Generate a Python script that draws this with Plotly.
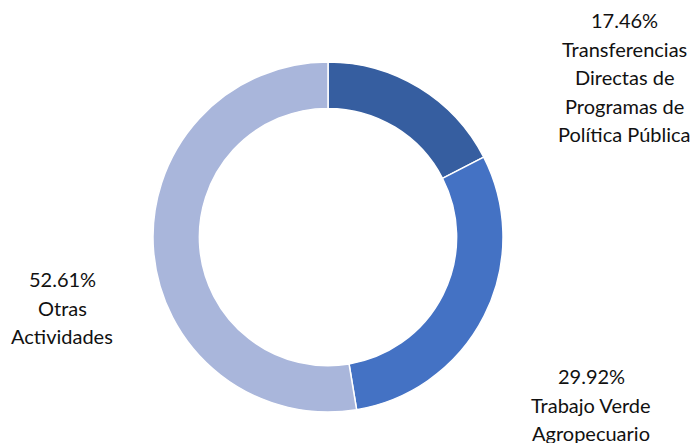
import plotly.graph_objects as go

labels = ["Transferencias Directas de Programas de Política Pública",
          "Trabajo Verde Agropecuario",
          "Otras Actividades"]
values = [17.46, 29.92, 52.61]
label_lines = [["17.46%", "Transferencias", "Directas de", "Programas de", "Política Pública"],
               ["29.92%", "Trabajo Verde", "Agropecuario"],
               ["52.61%", "Otras", "Actividades"]]
colors = ["#365EA0", "#4472C4", "#A9B6DB"]

W, H = 696, 443
fig = go.Figure(go.Pie(
    labels=labels, values=values, sort=False, direction="clockwise", rotation=0,
    hole=0.735, textinfo="none", hoverinfo="label+percent",
    marker=dict(colors=colors, line=dict(color="white", width=1.5)),
    domain=dict(x=[153 / W, 503 / W], y=[(H - 412) / H, (H - 62) / H]),
    showlegend=False,
))

# label anchor positions (pixels: center x, center y of first line), line step
pos = [(624, 20), (591, 376), (62, 279)]
step = 28.5
font = dict(family="Lato, 'Open Sans', sans-serif", size=20, color="#111111")
for lines, (px, py) in zip(label_lines, pos):
    for i, line in enumerate(lines):
        fig.add_annotation(text=line, x=px / W, y=1 - (py + i * step) / H,
                           xref="paper", yref="paper", showarrow=False,
                           align="center", xanchor="center", yanchor="middle", font=font)

fig.update_layout(width=W, height=H, margin=dict(l=0, r=0, t=0, b=0),
                  paper_bgcolor="white", plot_bgcolor="white")
fig.write_html("out.html")
